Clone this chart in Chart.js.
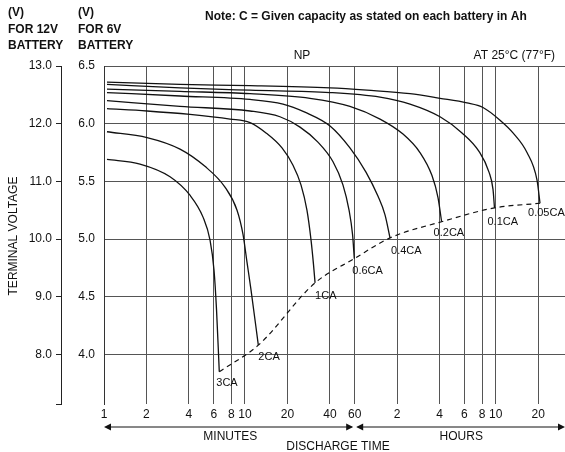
<!DOCTYPE html>
<html>
<head>
<meta charset="utf-8">
<script src="https://cdn.jsdelivr.net/npm/chart.js@4.4.0/dist/chart.umd.min.js"></script>
<style>
  html, body { margin: 0; padding: 0; background: #fff; }
  #wrap { width: 565px; height: 452px; }
</style>
</head>
<body>
<div id="wrap"><canvas id="dischargeChart" width="565" height="452"></canvas></div>
<script>
// ========== DATA ========== //
// x = discharge time in minutes, y = terminal voltage (6V battery)
const xTickValues = [1, 2, 4, 6, 8, 10, 20, 40, 60, 120, 240, 360, 480, 600, 1200];
const xTickLabels = ['1', '2', '4', '6', '8', '10', '20', '40', '60', '2', '4', '6', '8', '10', '20'];
const y6Ticks = [4.0, 4.5, 5.0, 5.5, 6.0, 6.5];
const y12Ticks = [8.0, 9.0, 10.0, 11.0, 12.0, 13.0];

const curveLabels = ['3CA', '2CA', '1CA', '0.6CA', '0.4CA', '0.2CA', '0.1CA', '0.05CA'];

const time3CA = [1.05, 1.8, 2.94, 4.07, 5.04, 5.65, 6.03, 6.28, 6.57];
const volt3CA = [5.69, 5.65, 5.54, 5.38, 5.19, 4.99, 4.73, 4.39, 3.85];

const time2CA = [1.05, 2.02, 3.46, 5.2, 7.21, 8.78, 9.68, 10.33, 11.03, 12.43];
const volt2CA = [5.93, 5.88, 5.78, 5.63, 5.45, 5.25, 5.04, 4.80, 4.56, 4.08];

const time1CA = [1.05, 2.02, 4.07, 7.83, 10.85, 14.1, 18.3, 21.9, 24.95, 27.5, 29.4, 30.6, 31.4];
const volt1CA = [6.13, 6.11, 6.08, 6.04, 6.01, 5.92, 5.79, 5.64, 5.47, 5.25, 4.99, 4.78, 4.62];

const time06CA = [1.05, 3.46, 10.85, 17.7, 24.55, 32.9, 42.1, 49.5, 54.7, 57.9, 59.6];
const volt06CA = [6.20, 6.15, 6.11, 6.06, 5.97, 5.84, 5.67, 5.47, 5.25, 5.04, 4.83];

const time04CA = [1.05, 3.46, 10.85, 18.6, 26.6, 40.1, 55.5, 72.1, 87.8, 98.4, 106.8];
const volt04CA = [6.27, 6.24, 6.21, 6.17, 6.10, 5.98, 5.79, 5.58, 5.37, 5.21, 5.01];

const time02CA = [1.05, 3.46, 10.85, 28.9, 55.5, 90.7, 132, 174.2, 211.9, 233.8, 248];
const volt02CA = [6.30, 6.28, 6.26, 6.22, 6.15, 6.04, 5.91, 5.75, 5.55, 5.36, 5.15];

const time01CA = [1.05, 3.46, 10.85, 40.1, 90.7, 148, 241.6, 346, 456.6, 537.6, 574, 588];
const volt01CA = [6.34, 6.31, 6.29, 6.27, 6.23, 6.17, 6.06, 5.92, 5.76, 5.58, 5.43, 5.27];

const time005CA = [1.05, 3.46, 10.85, 40.1, 73.3, 148, 241.6, 375.3, 487.5, 643.6, 795.6, 1000, 1178, 1237];
const volt005CA = [6.36, 6.34, 6.33, 6.31, 6.29, 6.26, 6.22, 6.18, 6.14, 6.03, 5.92, 5.75, 5.51, 5.31];

const curveTimes = [time3CA, time2CA, time1CA, time06CA, time04CA, time02CA, time01CA, time005CA];
const curveVolts = [volt3CA, volt2CA, volt1CA, volt06CA, volt04CA, volt02CA, volt01CA, volt005CA];

// label offsets (px) from each curve's end point
const labelOffsets = [[-3, 11], [0, 12], [0, 13], [-2, 12], [1, 13], [-8, 11], [-7, 14], [-12, 10]];

const FONT = "'Liberation Sans', Arial, Helvetica, sans-serif";
const INK = '#111';
const GRID = '#555';

// ========== BUILD DATASETS ========== //
const curveSets = curveTimes.map((ts, i) => ({
    label: curveLabels[i],
    data: ts.map((t, j) => ({ x: t, y: curveVolts[i][j] })),
    yAxisID: 'y6',
    borderColor: INK,
    borderWidth: 1.3,
    pointRadius: 0,
    fill: false,
    cubicInterpolationMode: 'monotone'
}));

// dashed line joining the end point of every curve
const endLine = {
    label: 'end',
    data: curveTimes.map((ts, i) => ({ x: ts[ts.length - 1], y: curveVolts[i][curveVolts[i].length - 1] })),
    yAxisID: 'y6',
    borderColor: INK,
    borderWidth: 1.2,
    borderDash: [5, 4],
    pointRadius: 0,
    fill: false,
    cubicInterpolationMode: 'monotone'
};

// ========== TEXT / ARROWS PLUGIN ========== //
function arrowHead(c, x, y, dir) {
    c.beginPath();
    c.moveTo(x, y);
    c.lineTo(x - dir * 7, y - 3.5);
    c.lineTo(x - dir * 7, y + 3.5);
    c.closePath();
    c.fill();
}

const decorations = {
    id: 'decorations',
    afterDraw(chart) {
        const c = chart.ctx;
        const xs = chart.scales.x;
        const ys = chart.scales.y6;
        const area = chart.chartArea;
        c.save();
        c.fillStyle = INK;
        c.strokeStyle = INK;

        // headers
        c.font = 'bold 12px ' + FONT;
        c.textAlign = 'left';
        c.textBaseline = 'middle';
        c.fillText('(V)', 8, 13);
        c.fillText('FOR 12V', 8, 30);
        c.fillText('BATTERY', 8, 46);
        c.fillText('(V)', 78, 13);
        c.fillText('FOR 6V', 78, 30);
        c.fillText('BATTERY', 78, 46);
        c.fillText('Note: C = Given capacity as stated on each battery in Ah', 205, 17);

        c.font = '12px ' + FONT;
        c.textAlign = 'center';
        c.fillText('NP', 302, 56);
        c.textAlign = 'right';
        c.fillText('AT 25°C (77°F)', 555, 56);

        // y title
        c.save();
        c.translate(14, 236);
        c.rotate(-Math.PI / 2);
        c.textAlign = 'center';
        c.fillText('TERMINAL VOLTAGE', 0, 0);
        c.restore();

        // curve labels
        c.font = '11px ' + FONT;
        c.textAlign = 'left';
        curveTimes.forEach((ts, i) => {
            const px = xs.getPixelForValue(ts[ts.length - 1]);
            const py = ys.getPixelForValue(curveVolts[i][curveVolts[i].length - 1]);
            c.fillText(curveLabels[i], px + labelOffsets[i][0], py + labelOffsets[i][1]);
        });

        // time arrows
        const ay = area.bottom + 23;
        const xa = xs.getPixelForValue(1);
        const xm = xs.getPixelForValue(60);
        const xb = area.right;
        c.lineWidth = 1;
        c.beginPath();
        c.moveTo(xa + 2, ay); c.lineTo(xm - 3, ay);
        c.moveTo(xm + 3, ay); c.lineTo(xb - 2, ay);
        c.stroke();
        arrowHead(c, xa, ay, -1);
        arrowHead(c, xm - 1.5, ay, 1);
        arrowHead(c, xm + 1.5, ay, -1);
        arrowHead(c, xb, ay, 1);

        c.font = '12px ' + FONT;
        c.textAlign = 'center';
        c.fillText('MINUTES', (xa + xm) / 2 + 1, ay + 10);
        c.fillText('HOURS', xs.getPixelForValue(300) + 8, ay + 10);
        c.fillText('DISCHARGE TIME', 338, ay + 20);

        c.restore();
    }
};

// ========== CHART ========== //
const ctx = document.getElementById('dischargeChart');
new Chart(ctx, {
    type: 'line',
    data: { datasets: [...curveSets, endLine] },
    options: {
        responsive: false,
        animation: false,
        devicePixelRatio: 1,
        layout: { padding: { top: 66, left: 0, right: 0, bottom: 26 } },
        plugins: { legend: { display: false }, tooltip: { enabled: false } },
        scales: {
            x: {
                type: 'logarithmic',
                position: 'bottom',
                min: 1,
                max: 1860,
                grid: { color: GRID, lineWidth: 1, drawTicks: false },
                border: { display: false },
                ticks: {
                    color: INK,
                    font: { family: FONT, size: 12 },
                    padding: 3,
                    autoSkip: false,
                    maxRotation: 0,
                    callback: (v, i) => xTickLabels[i]
                },
                afterBuildTicks: s => { s.ticks = xTickValues.map(v => ({ value: v })); },
                afterFit: s => { s.height = 22; }
            },
            y12: {
                type: 'linear',
                position: 'left',
                weight: 2,
                min: 7.14,
                max: 13,
                grid: { drawOnChartArea: false, drawTicks: true, tickLength: 5, color: '#222' },
                border: { display: true, color: '#222' },
                ticks: {
                    color: INK,
                    font: { family: FONT, size: 12 },
                    padding: 4,
                    callback: v => (y12Ticks.includes(v) ? v.toFixed(1) : '')
                },
                afterBuildTicks: s => { s.ticks = [s.min, ...y12Ticks].map(v => ({ value: v })); },
                afterFit: s => { s.width = 61; }
            },
            y6: {
                type: 'linear',
                position: 'left',
                weight: 1,
                min: 3.57,
                max: 6.5,
                grid: { color: GRID, lineWidth: 1, drawTicks: false },
                border: { display: true, color: '#333' },
                ticks: {
                    color: INK,
                    font: { family: FONT, size: 12 },
                    padding: 9,
                    callback: v => v.toFixed(1)
                },
                afterBuildTicks: s => { s.ticks = y6Ticks.map(v => ({ value: v })); },
                afterFit: s => { s.width = 43; }
            }
        }
    },
    plugins: [decorations]
});
</script>
</body>
</html>
